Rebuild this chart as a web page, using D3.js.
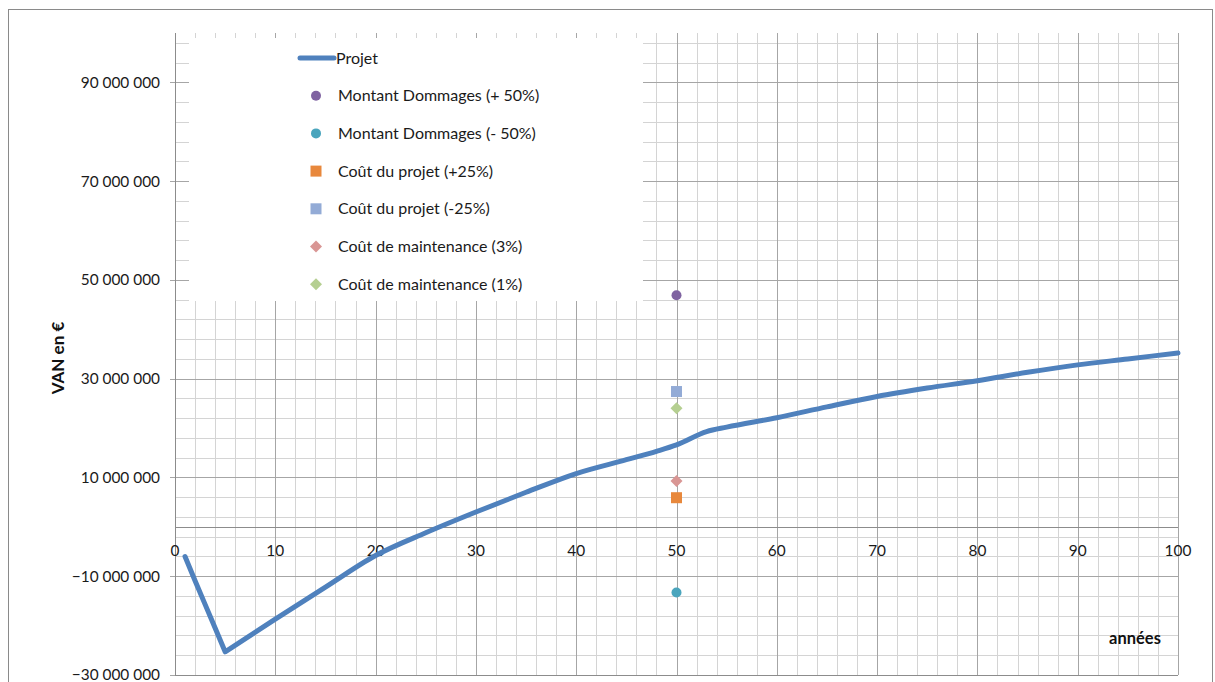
<!DOCTYPE html>
<html><head><meta charset="utf-8">
<script src="https://cdn.jsdelivr.net/npm/d3@7"></script>
<style>
html,body{margin:0;padding:0;background:#fff;}
svg{display:block;font-family:Lato,"Open Sans",sans-serif;}
</style></head>
<body>
<svg id="chart" width="1215" height="682"></svg>
<script>
// ---- data (values in millions of €) ----
const years = [1,2,3,4,5,10,15,20,25,30,35,40,45,48,50,53,55,60,65,70,75,80,85,90,95,100];
const vanProjet = [-6.0,-10.9,-15.7,-20.5,-25.3,-18.7,-12.2,-5.8,-1.2,3.0,7.0,10.8,13.6,15.3,16.6,19.3,20.2,22.1,24.3,26.4,28.1,29.6,31.3,32.8,34.0,35.2];
const sensYear = 50;
const sensNames = ["Montant Dommages (+ 50%)","Montant Dommages (- 50%)","Coût du projet (+25%)","Coût du projet (-25%)","Coût de maintenance (3%)","Coût de maintenance (1%)"];
const sensValues = [46.9,-13.3,5.9,27.4,9.3,24.0];
const sensShapes = ["circle","circle","square","square","diamond","diamond"];
const sensColors = ["#7f63a1","#4aa5bd","#e8883c","#93abd6","#d99694","#b5cf91"];
const yMajorTicks = [-30,-10,10,30,50,70,90];
const xMajorTicks = [0,10,20,30,40,50,60,70,80,90,100];
const lineName = "Projet";
const lineColor = "#4f81bd";

const svg = d3.select("#chart");
const L = 175, R = 1178, T = 33, B = 675;
const x = d3.scaleLinear().domain([0,100]).range([L,R]);
const y = d3.scaleLinear().domain([-30,100]).range([B,T]);

// outer border
svg.append("rect").attr("x",8.5).attr("y",9.5).attr("width",1204).attr("height",700)
  .attr("fill","none").attr("stroke","#8a8a8a").attr("stroke-width",1);

const crisp = v => Math.round(v) + 0.5;
const minorY = d3.range(-30, 100, 4);
const minorX = d3.range(0, 101, 2);

// minor grid
svg.append("g").selectAll("line").data(minorY).join("line")
  .attr("x1",L).attr("x2",R).attr("y1",d=>crisp(y(d))).attr("y2",d=>crisp(y(d)))
  .attr("stroke","#d4d4d4");
svg.append("g").selectAll("line").data(minorX).join("line")
  .attr("y1",T).attr("y2",B).attr("x1",d=>crisp(x(d))).attr("x2",d=>crisp(x(d)))
  .attr("stroke","#d4d4d4");
// major grid
svg.append("g").selectAll("line").data(yMajorTicks).join("line")
  .attr("x1",L-5).attr("x2",R).attr("y1",d=>crisp(y(d))).attr("y2",d=>crisp(y(d)))
  .attr("stroke","#a6a6a6");
svg.append("g").selectAll("line").data(xMajorTicks).join("line")
  .attr("y1",T).attr("y2",B).attr("x1",d=>crisp(x(d))).attr("x2",d=>crisp(x(d)))
  .attr("stroke","#a6a6a6");

// axes lines
svg.append("line").attr("x1",crisp(x(0))).attr("x2",crisp(x(0))).attr("y1",T).attr("y2",B).attr("stroke","#8c8c8c");
svg.append("line").attr("x1",L).attr("x2",R).attr("y1",crisp(y(0))).attr("y2",crisp(y(0))).attr("stroke","#8c8c8c");
svg.append("line").attr("x1",L).attr("x2",R).attr("y1",B+0.5).attr("y2",B+0.5).attr("stroke","#8c8c8c");

// y tick labels
const fmt = v => d3.format(",")(v*1e6).replace(/,/g," ");
svg.append("g").selectAll("text").data(yMajorTicks).join("text")
  .attr("x",160).attr("y",d=>y(d)).attr("dy","0.35em").attr("text-anchor","end")
  .attr("font-size",15.4).attr("fill","#1a1a1a").text(fmt);
// x tick labels
svg.append("g").selectAll("text").data(xMajorTicks).join("text")
  .attr("x",d=>x(d)).attr("y",y(0)+29).attr("text-anchor","middle")
  .attr("font-size",15.4).attr("fill","#1a1a1a").text(d=>d);

// axis titles
svg.append("text").attr("transform","translate(64,358) rotate(-90)").attr("text-anchor","middle")
  .attr("font-size",17).attr("font-weight","bold").attr("fill","#111").text("VAN en €");
svg.append("text").attr("x",1135).attr("y",644).attr("text-anchor","middle")
  .attr("font-size",16.5).attr("font-weight","bold").attr("fill","#111").text("années");

// legend box (white, over the grid)
svg.append("rect").attr("x",189).attr("y",38).attr("width",454).attr("height",263).attr("fill","#fff");

// line series: straight drop years 1-5, smooth afterwards
const idx5 = years.indexOf(5);
const pts = years.map((yr,i)=>[x(yr), y(vanProjet[i])]);
const straight = d3.line();
const smooth = d3.line().curve(d3.curveMonotoneX);
const dPath = straight(pts.slice(0, idx5+1)) + smooth(pts.slice(idx5)).replace(/^M/,"L");
svg.append("path").attr("d",dPath).attr("fill","none")
  .attr("stroke",lineColor).attr("stroke-width",5).attr("stroke-linejoin","round").attr("stroke-linecap","round");

// marker drawing
function marker(g, shape, cx, cy, color){
  if(shape==="circle") g.append("circle").attr("cx",cx).attr("cy",cy).attr("r",5).attr("fill",color);
  else if(shape==="square") g.append("rect").attr("x",cx-5.5).attr("y",cy-5.5).attr("width",11).attr("height",11).attr("fill",color);
  else g.append("path").attr("d",`M${cx},${cy-6}L${cx+6},${cy}L${cx},${cy+6}L${cx-6},${cy}Z`).attr("fill",color);
}
const pg = svg.append("g");
sensValues.forEach((v,i)=>marker(pg, sensShapes[i], x(sensYear), y(v), sensColors[i]));

// legend
const lg = svg.append("g");
const rowY = i => 58 + i*37.7;
lg.append("line").attr("x1",300).attr("x2",334).attr("y1",rowY(0)).attr("y2",rowY(0))
  .attr("stroke",lineColor).attr("stroke-width",5).attr("stroke-linecap","round");
lg.append("text").attr("x",336).attr("y",rowY(0)).attr("dy","0.35em").attr("font-size",16).attr("fill","#1a1a1a").text(lineName);
sensNames.forEach((n,i)=>{
  marker(lg, sensShapes[i], 316, rowY(i+1), sensColors[i]);
  lg.append("text").attr("x",338).attr("y",rowY(i+1)).attr("dy","0.35em").attr("font-size",16).attr("fill","#1a1a1a").text(n);
});
</script>
</body></html>
